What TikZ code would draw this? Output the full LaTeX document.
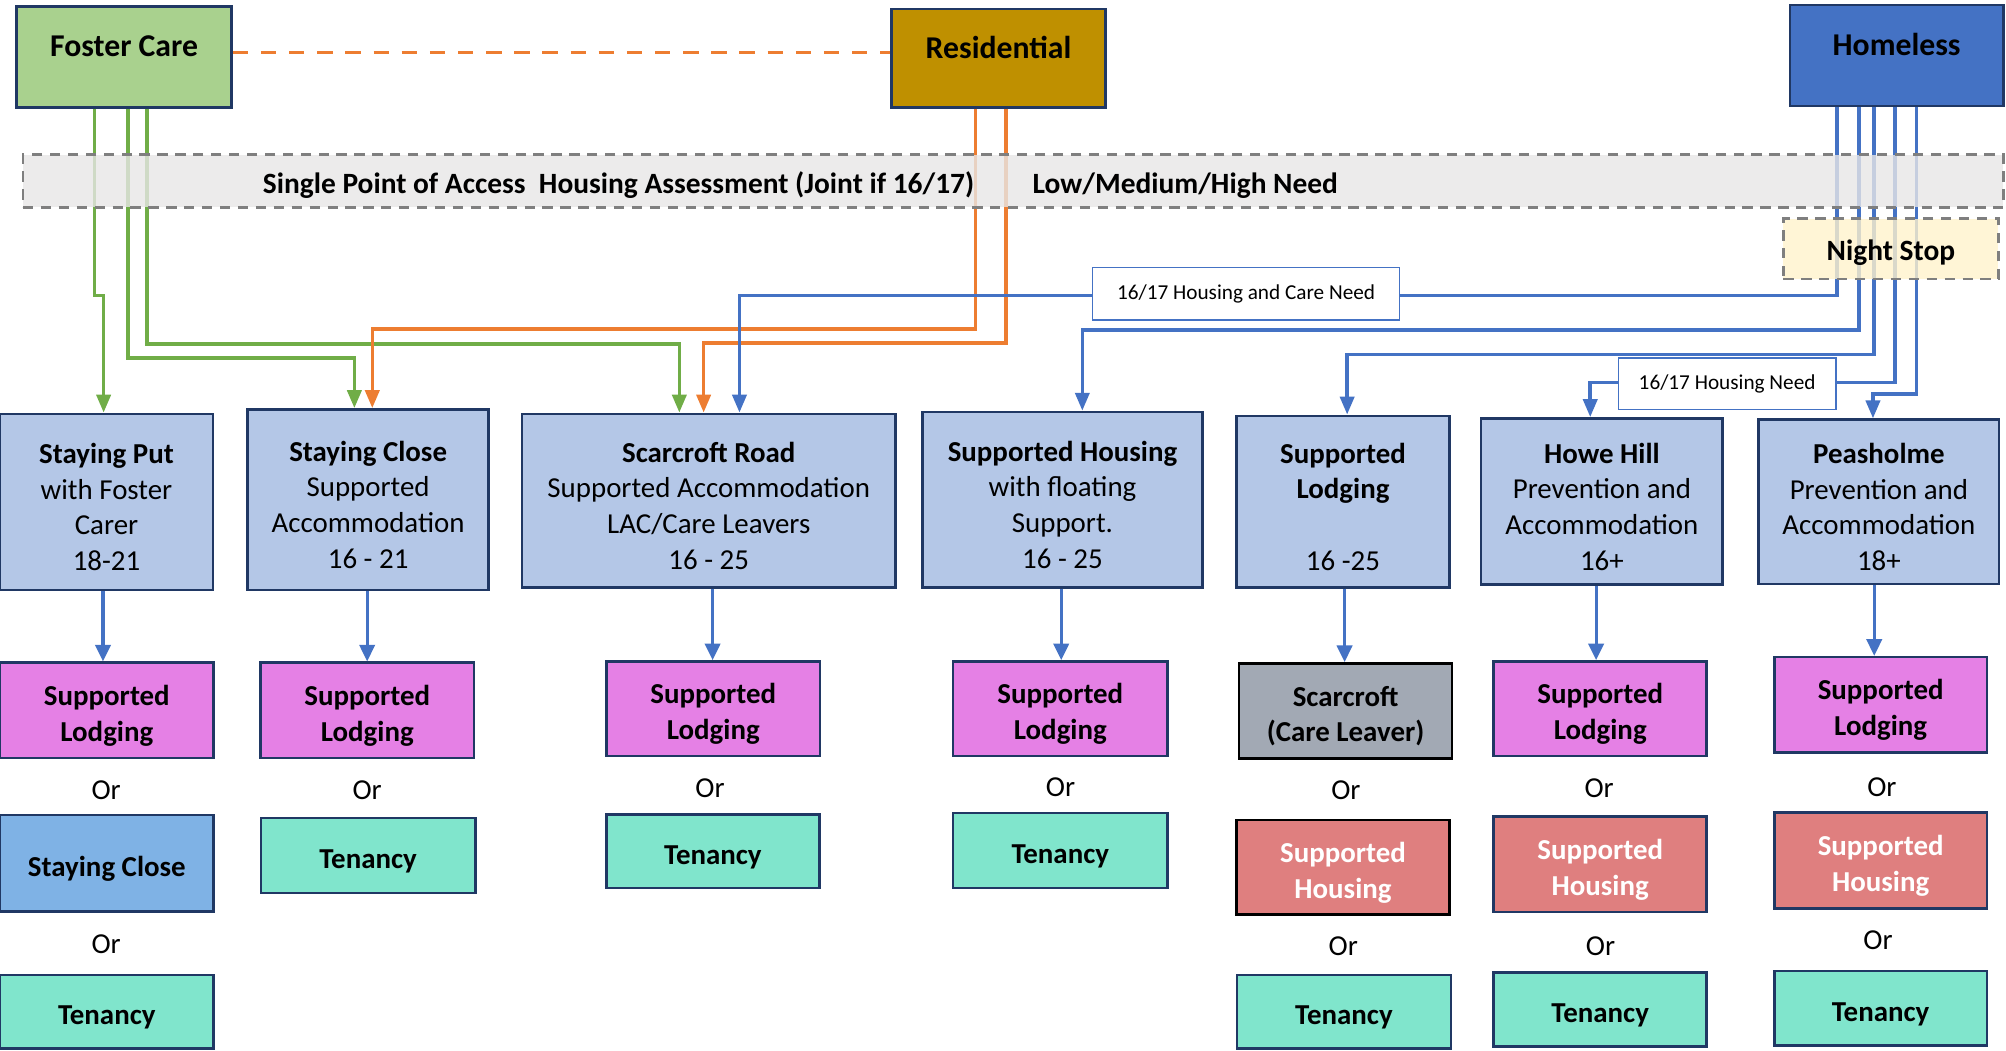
\documentclass[tikz,border=0pt]{standalone}
\usepackage{fontspec}
\setmainfont{Carlito}
\usepackage{xcolor}
\usepackage{tikz}
\usetikzlibrary{arrows.meta}
\definecolor{navy}{HTML}{203864}
\definecolor{fostergreen}{HTML}{A9D18E}
\definecolor{resgold}{HTML}{BF9000}
\definecolor{homeblue}{HTML}{4472C4}
\definecolor{bandgray}{HTML}{E7E6E6}
\definecolor{dashgray}{HTML}{7F7F7F}
\definecolor{nightyellow}{HTML}{FFF2CC}
\definecolor{midblue}{HTML}{B4C7E7}
\definecolor{lodgepink}{HTML}{E580E5}
\definecolor{closeblue}{HTML}{7FB2E5}
\definecolor{tenteal}{HTML}{80E5CC}
\definecolor{leavergray}{HTML}{A2A9B4}
\definecolor{houserose}{HTML}{DF7F7F}
\definecolor{linegreen}{HTML}{70AD47}
\definecolor{lineorange}{HTML}{ED7D31}
\newcommand{\mainsize}{\fontsize{11.3}{14}\selectfont}
\newcommand{\headsize}{\fontsize{12.4}{15}\selectfont}
\newcommand{\lblsize}{\fontsize{8.3}{10}\selectfont}
\newcommand{\tilelift}{}
\tikzstyle{cellbox}=[draw=navy,line width=1pt,inner sep=1pt,align=center,font=\mainsize,
  execute at begin node={\def\tilelift{\rule{0pt}{12pt}}}]
\tikzstyle{topbox}=[cellbox,font=\headsize\bfseries,text height=5pt,text depth=5pt]
\tikzstyle{midbox}=[cellbox,fill=midblue]
\tikzstyle{lodgebox}=[cellbox,fill=lodgepink,font=\mainsize\bfseries]
\tikzstyle{closebox}=[cellbox,fill=closeblue,font=\mainsize\bfseries]
\tikzstyle{tenbox}=[cellbox,fill=tenteal,font=\mainsize\bfseries]
\tikzstyle{leaverbox}=[cellbox,draw=black,fill=leavergray,font=\mainsize\bfseries]
\tikzstyle{housebox}=[cellbox,fill=houserose,text=white,font=\mainsize\bfseries]
\tikzstyle{bandbox}=[draw=dashgray,line width=1.1pt,dash pattern=on 4pt off 3pt,fill=bandgray,fill opacity=0.8]
\tikzstyle{nightbox}=[bandbox,fill=nightyellow,text opacity=1,font=\fontsize{11.5}{14}\selectfont\bfseries,
  execute at begin node={\def\tilelift{\rule{0pt}{11pt}}}]
\tikzstyle{bandtext}=[inner sep=0pt,font=\fontsize{11.5}{14}\selectfont\bfseries]
\tikzstyle{needbox}=[draw=homeblue,line width=0.6pt,fill=white,inner sep=1pt,font=\lblsize]
\tikzstyle{ortext}=[inner sep=0pt,font=\mainsize]
\tikzstyle{gline}=[draw=linegreen,line width=1.4pt,-{Triangle[length=7pt,width=5.5pt]}]
\tikzstyle{oline}=[gline,draw=lineorange]
\tikzstyle{bline}=[gline,draw=homeblue]
\tikzstyle{downarrow}=[draw=homeblue,line width=1.2pt,-{Triangle[length=6.5pt,width=6pt]}]
\tikzstyle{odash}=[draw=lineorange,line width=1.5pt,dash pattern=on 6pt off 5pt]
\newcommand{\tile}[7]{
  \node[#2,minimum width={(#5-#3)*0.5pt},minimum height={(#6-#4)*0.5pt}] (#1) at ({(#3+#5)/2},{(#4+#6)/2}) {\tilelift#7};
}

\begin{document}
\begin{tikzpicture}[x=0.5pt,y=-0.5pt]
\useasboundingbox (0,0) rectangle (1568,821.5);

% top row
\tile{foster}{topbox,fill=fostergreen}{13}{5}{181}{84}{Foster Care}
\tile{residential}{topbox,fill=resgold}{697}{7}{864}{84}{Residential}
\tile{homeless}{topbox,fill=homeblue}{1399}{4}{1566}{83}{Homeless}

% services
\tile{stayput}{midbox}{0}{323.5}{166.5}{461}{\textbf{Staying Put}\\with Foster\\Carer\\18-21}
\tile{stayclose}{midbox}{193.5}{320}{382}{461}{\textbf{Staying Close}\\Supported\\Accommodation\\16 - 21}
\tile{scarroad}{midbox}{408}{323.5}{700}{459}{\textbf{Scarcroft Road}\\Supported Accommodation\\LAC/Care Leavers\\16 - 25}
\tile{suphousing}{midbox}{721}{322}{940}{459}{\textbf{Supported Housing}\\with floating\\Support.\\16 - 25}
\tile{midlodging}{midbox}{966.5}{325}{1133}{459}{\textbf{Supported}\\\textbf{Lodging}\\\mbox{}\\16 -25}
\tile{howehill}{midbox}{1157.7}{327}{1346.6}{457}{\textbf{Howe Hill}\\Prevention and\\Accommodation\\16+}
\tile{peasholme}{midbox}{1374.7}{328}{1562.6}{456.5}{\textbf{Peasholme}\\Prevention and\\Accommodation\\18+}

% move on options
\tile{lodgeA}{lodgebox}{0}{518}{167}{592.6}{Supported\\Lodging}
\tile{closeA}{closebox}{0}{637}{167}{712.5}{Staying Close}
\tile{tenA}{tenbox}{0}{762}{167}{819.5}{Tenancy}
\tile{lodgeB}{lodgebox}{203.5}{518}{370.6}{592.6}{Supported\\Lodging}
\tile{tenB}{tenbox}{204}{639.5}{371.5}{698}{Tenancy}
\tile{lodgeC}{lodgebox}{474}{517}{641}{591}{Supported\\Lodging}
\tile{tenC}{tenbox}{474}{636.5}{640.5}{694}{Tenancy}
\tile{lodgeD}{lodgebox}{745}{517}{912.6}{591}{Supported\\Lodging}
\tile{tenD}{tenbox}{745}{635.6}{912.6}{694}{Tenancy}
\tile{leaverE}{leaverbox}{968.6}{518.5}{1135}{592.7}{Scarcroft\\(Care Leaver)}
\tile{houseE}{housebox,draw=black}{966.5}{641}{1133}{715}{Supported\\Housing}
\tile{tenE}{tenbox}{967}{762}{1134}{819.5}{Tenancy}
\tile{lodgeF}{lodgebox}{1167.6}{517}{1334}{591}{Supported\\Lodging}
\tile{houseF}{housebox}{1167.6}{638}{1334}{713}{Supported\\Housing}
\tile{tenF}{tenbox}{1167.6}{760}{1334}{818}{Tenancy}
\tile{lodgeG}{lodgebox}{1387}{513.6}{1553}{588}{Supported\\Lodging}
\tile{houseG}{housebox}{1387}{635}{1553}{710}{Supported\\Housing}
\tile{tenG}{tenbox}{1387}{759}{1553}{817}{Tenancy}

\foreach \n/\x/\y in {orA/83/617.6, orAA/83/738, orB/287/617.6, orC/555/616, orD/829/615,
  orE/1052/618, orEE/1050/739.7, orF/1250/616, orFF/1251/739.7, orG/1471/615, orGG/1468/735}
  \node[ortext] (\n) at (\x,\y) {Or};

% routes
\draw[odash] ([yshift=1.75pt]foster.east) -- ([yshift=1.75pt]foster.east -| residential.west);
\draw[gline] (foster.south) ++(-23,0) |- (81,231) -- (81,231 |- stayput.north);
\draw[gline] (foster.south) ++(3,0) |- (277,280) -- (277,280 |- stayclose.north);
\draw[gline] (foster.south) ++(18,0) |- (531,269) -- (531,269 |- scarroad.north);
\draw[oline] (residential.south) ++(-18,0) |- (291,257) -- (291,257 |- stayclose.north);
\draw[oline] (residential.south) ++(6,0) |- (550,268) -- (550,268 |- scarroad.north);
\draw[bline] (homeless.south) ++(-46.5,0) |- (578,231) -- (578,231 |- scarroad.north);
\draw[bline] (homeless.south) ++(-29.5,0) |- (846,258) -- (846,258 |- suphousing.north);
\draw[bline] (homeless.south) ++(-17.5,0) |- (1053,277) -- (1053,277 |- midlodging.north);
\draw[bline] (homeless.south) ++(-1.5,0) |- (1243,299) -- (1243,299 |- howehill.north);
\draw[bline] (homeless.south) ++(15.5,0) |- (1464,308) -- (1464,308 |- peasholme.north);

\foreach \a/\b/\x in {stayput/lodgeA/80.5, stayclose/lodgeB/287, scarroad/lodgeC/557,
  suphousing/lodgeD/829.5, midlodging/leaverE/1051, howehill/lodgeF/1247.6, peasholme/lodgeG/1465}
  \draw[downarrow] (\x,0 |- \a.south) -- (\x,0 |- \b.north);

% assessment band and labels
\tile{band}{bandbox}{18}{121}{1566}{162}{}
\node[bandtext] (assess) at (483.5,145) {Single Point of Access\ \ Housing Assessment (Joint if 16/17)};
\node[bandtext] (needlvl) at (926.5,145) {Low/Medium/High Need};
\tile{nightstop}{nightbox}{1394}{171}{1562}{218}{Night Stop}
\tile{carelbl}{needbox}{854}{209}{1094}{250}{16/17 Housing and Care Need}
\tile{houselbl}{needbox}{1265}{280}{1435}{320}{16/17 Housing Need}

\end{tikzpicture}
\end{document}
